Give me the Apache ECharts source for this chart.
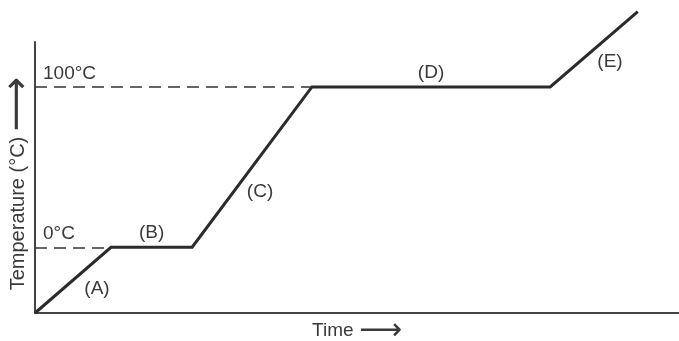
<!DOCTYPE html>
<html>
<head>
<meta charset="utf-8">
<script src="https://cdn.jsdelivr.net/npm/echarts@6/dist/echarts.min.js"></script>
<style>
  html, body { margin: 0; padding: 0; background: #fff; }
  #chart { width: 679px; height: 341px; }
</style>
</head>
<body>
<div id="chart"></div>
<script>
// Heating curve of water: time (arbitrary units) vs temperature (°C)
const times = [0, 11.8, 24.4, 43.0, 80.0, 93.6];
const temps = [-41, 0, 0, 100, 100, 147];
const segmentNames = ['(A)', '(B)', '(C)', '(D)', '(E)'];
const refTemps = [100, 0];
const refLabels = ['100°C', '0°C'];

// label offsets (px) of the segment names from each segment's midpoint
const segOffsets = [[24, 9], [0, -14], [8, 25], [0, -14], [16, 13]];

const FONT = 'Liberation Sans, Arial, Helvetica, sans-serif';
const INK = '#2b2b2b';
const TXT = '#3a3a3a';

const points = times.map((t, i) => [t, temps[i]]);

// dashed guide from the axis to where the curve first reaches each reference temperature
const guides = refTemps.map((T, k) => {
  const idx = temps.indexOf(T);
  return [
    { coord: [times[0], T], label: { formatter: refLabels[k] } },
    { coord: [times[idx], T] }
  ];
});

const segLabels = segmentNames.map((name, i) => ({
  coord: [(times[i] + times[i + 1]) / 2, (temps[i] + temps[i + 1]) / 2],
  symbolSize: 0,
  label: { show: true, formatter: name, offset: segOffsets[i] }
}));

const chart = echarts.init(document.getElementById('chart'), null, { renderer: 'canvas' });
chart.setOption({
  animation: false,
  backgroundColor: '#fff',
  grid: { left: 35, right: 0, top: 42, bottom: 28, containLabel: false, outerBoundsMode: 'none' },
  xAxis: {
    type: 'value', min: 0, max: 100,
    name: 'Time {arr|⟶}',
    nameLocation: 'middle', nameGap: 3,
    nameTextStyle: {
      color: TXT, fontFamily: FONT, fontSize: 19, verticalAlign: 'top',
      rich: { arr: { fontSize: 30, color: TXT, fontFamily: 'DejaVu Sans' } }
    },
    axisLine: { show: true, onZero: false, lineStyle: { color: '#444', width: 2 } },
    axisTick: { show: false }, axisLabel: { show: false }, splitLine: { show: false }
  },
  yAxis: {
    type: 'value', min: -41, max: 128,
    name: 'Temperature (°C) {arr|⟶}',
    nameLocation: 'middle', nameGap: 6,
    nameTextStyle: {
      color: TXT, fontFamily: FONT, fontSize: 20, lineHeight: 22, padding: [0, 12, 0, 0],
      rich: { arr: { fontSize: 38, lineHeight: 22, color: TXT, fontFamily: 'DejaVu Sans' } }
    },
    axisLine: { show: true, onZero: false, lineStyle: { color: '#444', width: 2 } },
    axisTick: { show: false }, axisLabel: { show: false }, splitLine: { show: false }
  },
  series: [{
    type: 'line',
    data: points,
    clip: false,
    symbol: 'none',
    lineStyle: { color: INK, width: 3, join: 'miter' },
    markLine: {
      silent: true, symbol: 'none',
      lineStyle: { color: '#333', width: 1.5, type: [12, 7] },
      label: {
        show: true, position: 'insideStartTop', distance: [8, 4],
        color: TXT, fontFamily: FONT, fontSize: 19
      },
      data: guides
    },
    markPoint: {
      silent: true, symbol: 'circle', symbolSize: 0,
      label: { color: TXT, fontFamily: FONT, fontSize: 19 },
      data: segLabels
    }
  }]
});
</script>
</body>
</html>
